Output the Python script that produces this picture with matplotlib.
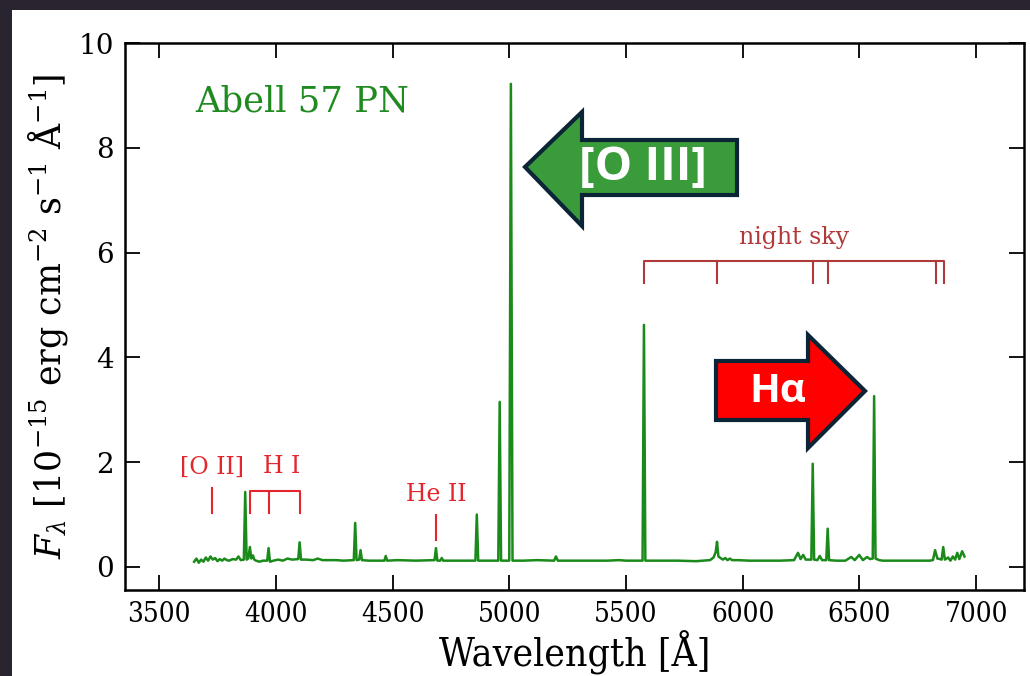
import matplotlib
matplotlib.use("Agg")
from matplotlib import pyplot as plt
from matplotlib.patches import Polygon, Rectangle
import numpy as np

# spectrum of Abell 57 (wavelength in A, flux in 1e-15 cgs)
wave = [3650, 3660, 3670, 3680, 3690, 3700, 3710, 3720, 3730, 3740, 3750, 3760,
        3770, 3780, 3790, 3800, 3815, 3830, 3840, 3850, 3863, 3869, 3875, 3882,
        3889, 3895, 3902, 3908, 3915, 3930, 3945, 3963, 3969, 3975, 3990, 4010,
        4030, 4050, 4070, 4096, 4102, 4108, 4130, 4160, 4180, 4200, 4230, 4260,
        4290, 4334, 4340, 4346, 4357, 4363, 4369, 4400, 4440, 4465, 4471, 4477,
        4520, 4600, 4680, 4686, 4692, 4704, 4711, 4717, 4760, 4800, 4855, 4861,
        4867, 4900, 4953, 4959, 4965, 5000, 5007, 5014, 5060, 5120, 5192, 5200,
        5208, 5280, 5350, 5420, 5470, 5500, 5571, 5577, 5583, 5650, 5720, 5800,
        5860, 5875, 5884, 5890, 5896, 5905, 5915, 5925, 5935, 5945, 5955, 5980,
        6030, 6100, 6160, 6220, 6237, 6248, 6259, 6270, 6285, 6294, 6300, 6306,
        6320, 6330, 6340, 6358, 6364, 6370, 6400, 6440, 6465, 6480, 6499, 6515,
        6533, 6545, 6557, 6563, 6569, 6585, 6600, 6650, 6700, 6750, 6800, 6815,
        6824, 6834, 6845, 6852, 6859, 6866, 6880, 6890, 6900, 6910, 6919, 6928,
        6940, 6950]
flux = [0.10, 0.16, 0.08, 0.14, 0.10, 0.18, 0.12, 0.20, 0.14, 0.17, 0.11, 0.15,
        0.12, 0.16, 0.13, 0.12, 0.15, 0.14, 0.20, 0.13, 0.14, 1.43, 0.14, 0.16,
        0.38, 0.16, 0.22, 0.14, 0.12, 0.10, 0.12, 0.12, 0.36, 0.10, 0.12, 0.14,
        0.12, 0.16, 0.14, 0.15, 0.47, 0.14, 0.14, 0.13, 0.16, 0.13, 0.13, 0.13,
        0.12, 0.13, 0.84, 0.13, 0.14, 0.32, 0.13, 0.12, 0.12, 0.12, 0.21, 0.12,
        0.13, 0.12, 0.13, 0.36, 0.12, 0.12, 0.17, 0.12, 0.12, 0.12, 0.12, 1.00,
        0.12, 0.12, 0.12, 3.15, 0.12, 0.12, 9.22, 0.12, 0.12, 0.13, 0.12, 0.20,
        0.12, 0.12, 0.12, 0.12, 0.13, 0.12, 0.12, 4.62, 0.12, 0.12, 0.12, 0.11,
        0.13, 0.18, 0.28, 0.48, 0.20, 0.17, 0.14, 0.17, 0.13, 0.16, 0.13, 0.13,
        0.12, 0.12, 0.12, 0.13, 0.27, 0.15, 0.23, 0.14, 0.14, 0.14, 1.97, 0.14,
        0.13, 0.21, 0.13, 0.13, 0.73, 0.13, 0.12, 0.12, 0.19, 0.13, 0.23, 0.13,
        0.19, 0.15, 0.16, 3.26, 0.16, 0.13, 0.12, 0.12, 0.12, 0.12, 0.12, 0.13,
        0.32, 0.16, 0.15, 0.14, 0.38, 0.14, 0.18, 0.12, 0.20, 0.14, 0.27, 0.15,
        0.30, 0.20]

oii_wave = 3727
hi_waves = [3889, 3970, 4102]
heii_wave = 4686
sky_waves = [5577, 5890, 6300, 6364, 6830, 6863]

x_ticks = [3500, 4000, 4500, 5000, 5500, 6000, 6500, 7000]
y_ticks = [0, 2, 4, 6, 8, 10]

W, H = 1030, 676
plt.rcParams['font.family'] = 'DejaVu Serif'
plt.rcParams['mathtext.fontset'] = 'dejavuserif'

fig = plt.figure(figsize=(W / 100, H / 100), dpi=100, facecolor='#2a2430')


def px(x, y):
    # pixel position in the picture -> figure fraction
    return (x / W, 1 - y / H)


# white card the plot sits on
fig.patches.append(Rectangle(px(12, H), 1, 1 - 10 / H, transform=fig.transFigure,
                             facecolor='white', edgecolor='none', zorder=-10))

ax = fig.add_axes([125 / W, 1 - 590 / H, 899 / W, 547 / H])
ax.set_facecolor('white')
ax.plot(wave, flux, color='#1a8a1a', lw=1.8)

ax.set_xlim(3354, 7205)
ax.set_ylim(-0.44, 10)
ax.set_xticks(x_ticks)
ax.set_yticks(y_ticks)
ax.tick_params(direction='in', top=True, right=True, length=11, width=1.3,
               labelsize=20, pad=8)
for lab in ax.get_xticklabels():
    lab.set_fontstretch('condensed')
for s in ax.spines.values():
    s.set_linewidth(1.8)

ax.set_xlabel('Wavelength [Å]', fontsize=28, fontstretch='condensed', labelpad=2)
ax.set_ylabel(r'$F_\lambda\ [10^{-15}\ \mathrm{erg\ cm^{-2}\ s^{-1}\ \AA^{-1}}]$',
              fontsize=25, labelpad=6)

ax.text(0.078, 0.893, 'Abell 57 PN', transform=ax.transAxes, color='#1f8a1f',
        fontsize=25.5, va='center', ha='left')

# line identifications
red = '#e3262d'
ax.plot([oii_wave, oii_wave], [1.03, 1.50], color=red, lw=1.5)
ax.text(oii_wave, 1.91, '[O II]', color=red, fontsize=17, ha='center', va='center')
ax.plot([hi_waves[0], hi_waves[0], hi_waves[-1], hi_waves[-1]],
        [1.03, 1.45, 1.45, 1.03], color=red, lw=1.5)
for w in hi_waves[1:-1]:
    ax.plot([w, w], [1.03, 1.45], color=red, lw=1.5)
ax.text(4027, 1.91, 'H I', color=red, fontsize=17, ha='center', va='center')
ax.plot([heii_wave, heii_wave], [0.52, 0.99], color=red, lw=1.5)
ax.text(heii_wave, 1.39, 'He II', color=red, fontsize=17, ha='center', va='center')

sky = '#b03a3a'
ax.plot([sky_waves[0], sky_waves[0], sky_waves[-1], sky_waves[-1]],
        [5.42, 5.84, 5.84, 5.42], color=sky, lw=1.5)
for w in sky_waves[1:-1]:
    ax.plot([w, w], [5.42, 5.84], color=sky, lw=1.5)
ax.text(6220, 6.28, 'night sky', color=sky, fontsize=17, ha='center', va='center')

# block arrows laid over the chart
edge = '#0c2536'
green_arrow = [(525, 167), (582, 112), (582, 140), (737, 140), (737, 195),
               (582, 195), (582, 226)]
red_arrow = [(865, 391), (808, 335), (808, 361), (716, 361), (716, 420),
             (808, 420), (808, 448)]
fig.patches.append(Polygon([px(*p) for p in green_arrow], closed=True,
                           transform=fig.transFigure, facecolor='#3a9b3a',
                           edgecolor=edge, lw=3, zorder=5))
fig.patches.append(Polygon([px(*p) for p in red_arrow], closed=True,
                           transform=fig.transFigure, facecolor='#ff0000',
                           edgecolor=edge, lw=3, zorder=5))
fig.text(*px(643, 168), '[O III]', color='white', fontsize=34, fontweight='bold',
         family='Open Sans', ha='center', va='center', zorder=6)
fig.text(*px(778, 392), 'Hα', color='white', fontsize=29, fontweight='bold',
         family='Open Sans', ha='center', va='center', zorder=6)

fig.savefig('out.png', dpi=100, facecolor=fig.get_facecolor())
